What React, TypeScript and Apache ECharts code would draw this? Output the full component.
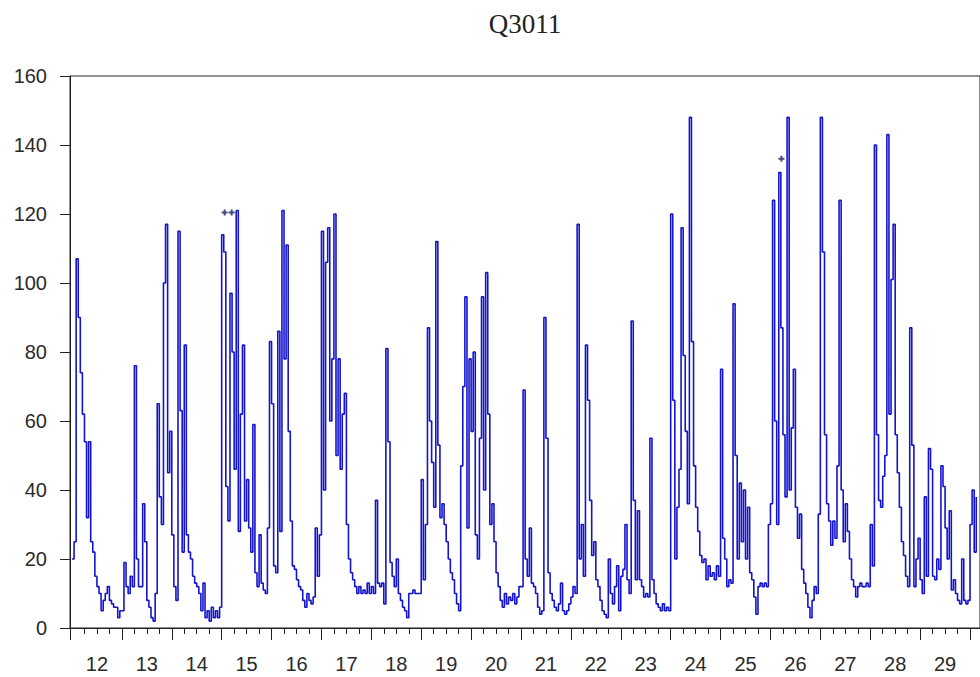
import React, { useEffect, useRef } from "react";
import * as echarts from "echarts";

const chartTitle = "Q3011";
const firstDay = 12;
const yTicks = [0, 20, 40, 60, 80, 100, 120, 140, 160];
const dayLabels = [12, 13, 14, 15, 16, 17, 18, 19, 20, 21, 22, 23, 24, 25, 26, 27, 28, 29];

// hourly readings, one array per day
const day12 = [20, 25, 107, 90, 74, 62, 54, 32, 54, 25, 22, 15, 12, 10, 5, 8, 10, 12, 8, 7, 6, 6, 3, 5];
const day13 = [5, 19, 12, 10, 15, 12, 76, 20, 12, 12, 36, 25, 8, 6, 3, 2, 10, 65, 38, 30, 100, 117, 45, 57];
const day14 = [27, 12, 8, 115, 63, 22, 82, 27, 22, 20, 15, 13, 12, 10, 5, 13, 3, 5, 2, 6, 3, 5, 3, 6];
const day15 = [114, 109, 41, 31, 97, 80, 46, 121, 28, 62, 82, 31, 43, 29, 22, 59, 16, 12, 27, 13, 11, 10, 29, 83];
const day16 = [65, 18, 16, 86, 28, 121, 78, 111, 57, 31, 18, 17, 14, 12, 11, 8, 6, 10, 8, 7, 9, 29, 15, 27];
const day17 = [115, 40, 106, 116, 60, 78, 120, 50, 78, 46, 62, 68, 30, 20, 16, 14, 12, 10, 12, 10, 11, 10, 13, 10];
const day18 = [12, 10, 37, 13, 12, 13, 7, 81, 54, 19, 15, 12, 20, 10, 8, 6, 5, 3, 10, 10, 11, 10, 10, 10];
const day19 = [43, 14, 30, 87, 60, 48, 35, 112, 53, 32, 36, 30, 25, 20, 16, 14, 10, 7, 5, 47, 70, 96, 29, 78];
const day20 = [57, 80, 27, 20, 55, 96, 40, 103, 62, 30, 36, 25, 16, 12, 8, 6, 10, 7, 9, 8, 10, 7, 9, 12];
const day21 = [12, 69, 20, 15, 29, 13, 12, 10, 6, 4, 5, 90, 55, 16, 10, 8, 6, 5, 7, 13, 5, 4, 5, 7];
const day22 = [9, 12, 10, 117, 20, 30, 15, 82, 66, 37, 21, 25, 14, 12, 8, 5, 4, 3, 20, 10, 7, 12, 18, 5];
const day23 = [15, 17, 30, 14, 10, 89, 37, 14, 34, 14, 12, 9, 10, 9, 55, 14, 10, 7, 6, 5, 7, 5, 6, 5];
const day24 = [120, 66, 20, 35, 46, 116, 79, 57, 36, 148, 83, 47, 35, 28, 21, 19, 20, 14, 18, 15, 16, 14, 18, 15];
const day25 = [75, 26, 20, 12, 14, 13, 94, 50, 20, 42, 25, 40, 20, 35, 16, 14, 9, 4, 12, 13, 12, 13, 12, 30];
const day26 = [36, 124, 60, 30, 132, 87, 56, 38, 148, 40, 58, 75, 35, 26, 33, 17, 13, 10, 6, 3, 8, 12, 10, 33];
const day27 = [148, 109, 56, 36, 31, 24, 31, 26, 47, 124, 40, 25, 36, 28, 20, 14, 12, 9, 12, 13, 12, 12, 13, 12];
const day28 = [30, 18, 140, 56, 37, 35, 44, 50, 143, 62, 101, 117, 56, 45, 35, 25, 21, 15, 12, 87, 53, 12, 20, 26];
const day29 = [14, 10, 38, 15, 52, 46, 15, 14, 20, 17, 47, 41, 29, 20, 34, 11, 14, 10, 8, 7, 20, 8, 7, 8];
const day30 = [30, 40, 22, 38];

// isolated readings drawn as crosses: [day, value]
const isolatedPoints = [
  [15.06, 120.4],
  [15.2, 120.4],
  [26.22, 136],
];

const allDays = [day12, day13, day14, day15, day16, day17, day18, day19, day20, day21, day22, day23, day24, day25, day26, day27, day28, day29, day30];

export default function App() {
  const ref = useRef<HTMLDivElement>(null);
  useEffect(() => {
    document.body.style.margin = "0";
    if (!ref.current) return;
    const chart = echarts.init(ref.current, undefined, { renderer: "svg" });

    const lineData: number[][] = [];
    allDays.forEach((arr, i) => {
      arr.forEach((v, h) => lineData.push([firstDay + i + h / 24, v]));
    });

    const xMin = 11.96;
    const xMax = 30.2;
    const majorTicks = [xMin, ...dayLabels.slice(1), 30];
    const minorTicks: number[] = [];
    for (let d = 12; d <= 30; d++) {
      [0.25, 0.5, 0.75].forEach((q) => {
        if (d + q < xMax) minorTicks.push(d + q);
      });
    }
    const labelPos = dayLabels.map((d) => d + 0.5);

    const axisFont = { fontFamily: "Liberation Sans", fontSize: 20, color: "#2a2a2a" };

    chart.setOption({
      animation: false,
      backgroundColor: "#ffffff",
      graphic: [
        {
          type: "text",
          x: 525,
          y: 24,
          style: {
            text: chartTitle,
            fontFamily: "Liberation Serif",
            fontSize: 27,
            fill: "#222",
            align: "center",
            verticalAlign: "middle",
          },
        },
      ],
      grid: {
        left: 70,
        top: 76,
        width: 912,
        height: 552,
        show: true,
        borderColor: "#222",
        borderWidth: 1,
        backgroundColor: "transparent",
      },
      xAxis: [
        {
          type: "value",
          min: xMin,
          max: xMax,
          position: "bottom",
          axisLine: { show: true, lineStyle: { color: "#222", width: 1 } },
          axisTick: { show: true, customValues: majorTicks, length: 12, lineStyle: { color: "#222" } },
          axisLabel: {
            show: true,
            customValues: labelPos,
            formatter: (v: number) => String(Math.floor(v)),
            margin: 26,
            ...axisFont,
          },
          splitLine: { show: false },
        },
        {
          type: "value",
          min: xMin,
          max: xMax,
          position: "bottom",
          axisLine: { show: false },
          axisTick: { show: true, customValues: minorTicks, length: 6, lineStyle: { color: "#222" } },
          axisLabel: { show: false },
          splitLine: { show: false },
        },
      ],
      yAxis: {
        type: "value",
        min: 0,
        max: 160,
        interval: 20,
        axisLine: { show: true, lineStyle: { color: "#222", width: 1 } },
        axisTick: { show: true, length: 10, lineStyle: { color: "#222" } },
        axisLabel: {
          margin: 23,
          ...axisFont,
          customValues: yTicks,
        },
        splitLine: { show: false },
      },
      series: [
        {
          type: "line",
          data: lineData,
          step: "end",
          showSymbol: false,
          symbol: "none",
          lineStyle: { color: "#1414cc", width: 1.6 },
          silent: true,
        },
        {
          type: "scatter",
          data: isolatedPoints,
          symbol: "path://M-1,-3H1V-1H3V1H1V3H-1V1H-3V-1H-1Z",
          symbolSize: 6,
          itemStyle: { color: "#1a1a60" },
          silent: true,
        },
      ],
    });
    return () => chart.dispose();
  }, []);
  return <div ref={ref} style={{ width: 980, height: 677 }} />;
}
